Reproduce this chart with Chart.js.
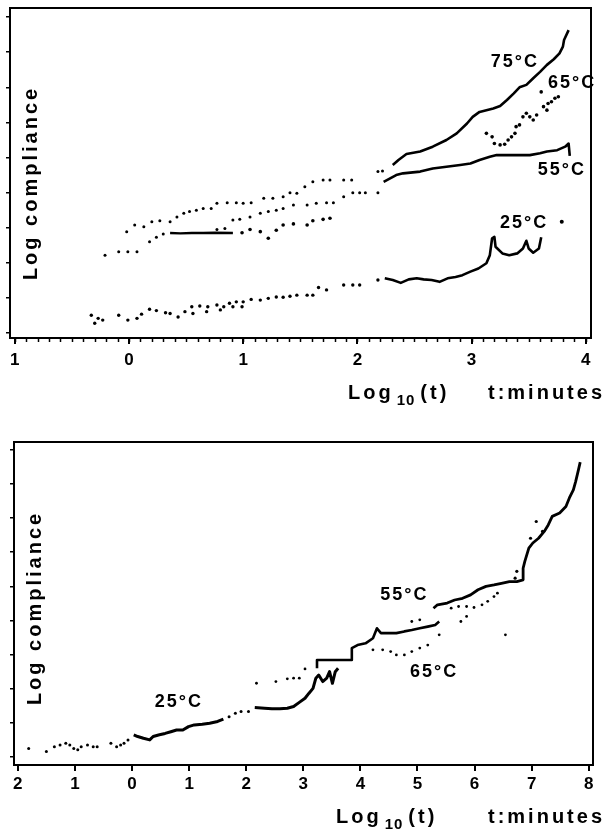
<!DOCTYPE html>
<html><head><meta charset="utf-8">
<script src="https://cdn.jsdelivr.net/npm/chart.js@4.4.0/dist/chart.umd.min.js"></script>
<style>
html,body{margin:0;padding:0;background:#fff;}
canvas{display:block;}
</style></head><body>
<canvas id="c1" width="610" height="415"></canvas>
<canvas id="c2" width="610" height="415"></canvas>
<script>
// ---------- TOP CHART DATA (x = log10 t, y = log compliance, arbitrary units) ----------
const topTickValues = [-1, 0, 1, 2, 3, 4];
const topTickLabels = ['1', '0', '1', '2', '3', '4'];

const top25DotsX = [-0.33,-0.30,-0.27,-0.23,-0.09,-0.01,0.07,0.11,0.18,0.24,0.32,0.36,0.43,0.49,0.55,0.56,0.62,0.68,0.69,0.77,0.80,0.83,0.88,0.91,0.94,0.99,1.00,1.07,1.15,1.22,1.29,1.35,1.41,1.47,1.56,1.61,1.66,1.73,1.88,1.96,2.02,2.18];
const top25DotsY = [0.51,0.28,0.42,0.37,0.51,0.37,0.42,0.54,0.68,0.64,0.58,0.56,0.46,0.61,0.75,0.56,0.77,0.61,0.75,0.80,0.66,0.75,0.85,0.75,0.89,0.75,0.89,0.96,0.94,0.99,1.03,1.02,1.05,1.08,1.08,1.08,1.30,1.23,1.37,1.37,1.37,1.51];
const top25LineX = [2.24,2.31,2.38,2.45,2.52,2.58,2.65,2.72,2.79,2.86,2.92,2.99,3.06,3.13,3.16,3.18,3.20,3.21,3.27,3.33,3.40,3.45,3.48,3.50,3.54,3.59,3.61];
const top25LineY = [1.56,1.51,1.43,1.53,1.56,1.53,1.51,1.46,1.56,1.60,1.65,1.75,1.84,1.99,2.22,2.70,2.74,2.46,2.27,2.22,2.27,2.41,2.63,2.41,2.29,2.41,2.73];
const top25ExtraX = [3.79];
const top25ExtraY = [3.17];

const top75DotsX = [-0.02,0.05,0.13,0.20,0.27,0.36,0.42,0.48,0.53,0.59,0.65,0.72,0.77,0.86,0.94,1.00,1.07,1.18,1.26,1.35,1.41,1.47,1.54,1.61,1.70,1.76,1.88,1.95,2.18,2.22];
const top75DotsY = [2.89,3.08,3.03,3.17,3.20,3.17,3.31,3.41,3.46,3.50,3.55,3.55,3.70,3.71,3.71,3.70,3.71,3.84,3.84,3.88,4.00,3.98,4.17,4.31,4.36,4.36,4.36,4.36,4.60,4.62];
const top75LineX = [2.31,2.36,2.43,2.55,2.66,2.78,2.87,2.96,3.01,3.07,3.19,3.25,3.31,3.37,3.42,3.48,3.54,3.60,3.66,3.72,3.77,3.80,3.81,3.85];
const top75LineY = [4.79,4.93,5.10,5.17,5.31,5.50,5.69,5.97,6.16,6.30,6.40,6.47,6.64,6.83,7.00,7.07,7.26,7.44,7.64,7.80,7.97,8.16,8.35,8.63];

const top55DotsX = [-0.21,-0.09,-0.01,0.07,0.18,0.24,0.30,0.77,0.84,0.91,0.97,1.06,1.15,1.22,1.29,1.35,1.44,1.56,1.64,1.73,1.79,1.88,1.96,2.02,2.07,2.18];
const top55DotsY = [2.22,2.32,2.32,2.32,2.60,2.73,2.82,2.95,2.98,3.22,3.24,3.31,3.41,3.46,3.50,3.55,3.65,3.65,3.70,3.71,3.71,3.88,4.00,4.00,4.00,4.00];
const top55FlatX = [0.36,0.45,0.55,0.65,0.75,0.91];
const top55FlatY = [2.85,2.84,2.85,2.85,2.86,2.85];
const top55LineX = [2.23,2.34,2.40,2.55,2.66,2.78,2.90,2.99,3.07,3.16,3.22,3.37,3.51,3.60,3.66,3.75,3.82,3.85,3.86];
const top55LineY = [4.31,4.50,4.55,4.60,4.69,4.74,4.79,4.83,4.93,5.02,5.07,5.07,5.07,5.12,5.17,5.21,5.31,5.40,5.05];

const top65DotsX = [0.99,1.06,1.15,1.22,1.29,1.35,1.44,1.56,1.61,1.70,1.76,3.13,3.18,3.20,3.25,3.29,3.32,3.35,3.38,3.39,3.42,3.45,3.48,3.51,3.54,3.57,3.61,3.63,3.66,3.67,3.70,3.73,3.76];
const top65DotsY = [2.86,2.95,2.89,2.70,2.93,3.08,3.11,3.08,3.20,3.24,3.27,5.69,5.59,5.40,5.36,5.38,5.50,5.59,5.69,5.88,5.93,6.16,6.26,6.16,6.07,6.21,6.87,6.45,6.35,6.54,6.59,6.69,6.73];

const topLabelTexts = ['75°C', '65°C', '55°C', '25°C'];

// ---------- BOTTOM CHART DATA ----------
const botTickValues = [-2,-1,0,1,2,3,4,5,6,7,8];
const botTickLabels = ['2','1','0','1','2','3','4','5','6','7','8'];

const bot25DotsX = [-1.81,-1.50,-1.36,-1.26,-1.16,-1.09,-1.02,-0.95,-0.89,-0.78,-0.68,-0.61,-0.37,-0.27,-0.20,-0.14,-0.07,1.70,1.81,1.91,2.04];
const bot25DotsY = [0.25,0.16,0.30,0.35,0.40,0.35,0.25,0.21,0.30,0.35,0.30,0.30,0.40,0.30,0.35,0.40,0.50,1.18,1.28,1.33,1.33];
const bot25LineAX = [0.03,0.10,0.20,0.31,0.37,0.48,0.58,0.68,0.78,0.89,0.99,1.09,1.23,1.36,1.50,1.60];
const bot25LineAY = [0.65,0.60,0.55,0.50,0.60,0.65,0.69,0.74,0.79,0.79,0.89,0.94,0.96,0.99,1.04,1.11];
const bot25LineBX = [2.15,2.32,2.45,2.59,2.72,2.83,2.93,3.03,3.10,3.17,3.22,3.27,3.34,3.41,3.46,3.51,3.56,3.61];
const bot25LineBY = [1.45,1.43,1.41,1.41,1.43,1.48,1.60,1.72,1.87,2.01,2.31,2.40,2.21,2.31,2.50,2.16,2.50,2.60];
const botRowDotsX = [2.18,2.52,2.72,2.83,2.93,3.03];
const botRowDotsY = [2.16,2.21,2.29,2.31,2.31,2.58];
const bot55LineX = [3.24,3.24,3.85,3.85,3.95,4.09,4.22,4.29,4.36,4.50,4.63,4.77,4.90,5.04,5.18,5.31,5.38];
const bot55LineY = [2.60,2.84,2.84,3.19,3.28,3.33,3.48,3.77,3.63,3.63,3.63,3.68,3.72,3.77,3.82,3.87,3.97];
const bot55UpperX = [5.28,5.35,5.52,5.65,5.79,5.93,6.06,6.20,6.34,6.47,6.61,6.74,6.85,6.85,6.88,6.95,7.02,7.12,7.22,7.29,7.36,7.49,7.60,7.66,7.73,7.77,7.82,7.85];
const bot55UpperY = [4.36,4.46,4.51,4.60,4.65,4.75,4.90,5.00,5.04,5.09,5.14,5.14,5.19,5.53,5.73,6.12,6.27,6.41,6.61,6.80,7.05,7.15,7.34,7.59,7.83,8.07,8.42,8.64];
const botScatterX = [6.71,6.74,6.98,7.08,7.19];
const botScatterY = [5.24,5.44,6.41,6.90,6.61];
const bot65DotsX = [4.22,4.39,4.53,4.63,4.77,4.90,5.04,5.18,5.38,4.90,5.04,5.59,5.72,5.86,5.99,6.13,6.23,6.34,6.40,5.76,5.86,6.54];
const bot65DotsY = [3.14,3.14,3.09,2.99,2.99,3.09,3.19,3.28,3.58,3.97,4.02,4.36,4.41,4.41,4.38,4.46,4.56,4.70,4.80,3.97,4.12,3.58];

const botLabelTexts = ['25°C', '55°C', '65°C'];

// ---------- helpers ----------
function pts(xs, ys) { return xs.map((x, i) => ({ x: x, y: ys[i] })); }
function dots(xs, ys, r) {
  return { data: pts(xs, ys), showLine: false, pointRadius: r || 1.5, pointBackgroundColor: '#000', pointBorderWidth: 0 };
}
function trace(xs, ys, w) {
  return { data: pts(xs, ys), showLine: true, borderColor: '#000', borderWidth: w || 2.6, pointRadius: 0, tension: 0, borderJoinStyle: 'round' };
}

const AXIS_FONT = '"Liberation Sans", Arial, sans-serif';

const decorPlugin = {
  id: 'decor',
  afterDraw(chart, args, o) {
    const { ctx, chartArea: a, scales } = chart;
    const xs = scales.x, ys = scales.y;
    ctx.save();
    // frame
    ctx.strokeStyle = '#000';
    ctx.lineWidth = 2;
    ctx.strokeRect(a.left, a.top, a.right - a.left, a.bottom - a.top);
    // minor x ticks
    if (o.minorStep) {
      ctx.lineWidth = 1.5;
      for (let v = o.minorFrom; v <= o.minorTo + 1e-9; v += o.minorStep) {
        const px = Math.round(xs.getPixelForValue(v)) + 0.5;
        ctx.beginPath();
        ctx.moveTo(px, a.bottom + 1);
        ctx.lineTo(px, a.bottom + 4);
        ctx.stroke();
      }
    }
    // temperature labels
    ctx.fillStyle = '#000';
    ctx.textAlign = 'center';
    ctx.textBaseline = 'middle';
    ctx.font = 'bold 18px ' + AXIS_FONT;
    try { ctx.letterSpacing = '2px'; } catch (e) {}
    o.labels.forEach(l => {
      ctx.fillText(l.text, xs.getPixelForValue(l.x), ys.getPixelForValue(l.y));
    });
    // y title
    try { ctx.letterSpacing = '3px'; } catch (e) {}
    ctx.font = 'bold 20px ' + AXIS_FONT;
    ctx.save();
    ctx.translate(o.yTitle.x, o.yTitle.y);
    ctx.rotate(-Math.PI / 2);
    ctx.fillText('Log compliance', 0, 0);
    ctx.restore();
    // x title
    ctx.textAlign = 'left';
    ctx.textBaseline = 'alphabetic';
    const t = o.xTitle;
    ctx.font = 'bold 20px ' + AXIS_FONT;
    ctx.fillText('Log', t.x, t.y);
    let w = ctx.measureText('Log').width;
    ctx.font = 'bold 15px ' + AXIS_FONT;
    try { ctx.letterSpacing = '1px'; } catch (e) {}
    ctx.fillText('10', t.x + w + 3, t.y + 6);
    const w2 = ctx.measureText('10').width;
    try { ctx.letterSpacing = '3px'; } catch (e) {}
    ctx.font = 'bold 20px ' + AXIS_FONT;
    ctx.fillText('(t)', t.x + w + w2 + 8, t.y);
    ctx.fillText('t:minutes', t.x2, t.y);
    ctx.restore();
  }
};

function makeChart(id, cfg) {
  return new Chart(document.getElementById(id), {
    type: 'scatter',
    data: { datasets: cfg.datasets },
    options: {
      responsive: false,
      animation: false,
      events: [],
      layout: { padding: cfg.padding },
      plugins: { legend: { display: false }, tooltip: { enabled: false }, decor: cfg.decor },
      scales: {
        x: {
          type: 'linear', min: cfg.xMin, max: cfg.xMax,
          afterBuildTicks: s => { s.ticks = cfg.tickValues.map(v => ({ value: v })); },
          afterFit: s => { s.height = cfg.xHeight; },
          ticks: {
            callback: (v, i) => cfg.tickLabels[i],
            color: '#000', maxRotation: 0, autoSkip: false,
            padding: cfg.tickPad,
            font: { family: AXIS_FONT, size: 17, weight: 'bold' }
          },
          grid: { drawOnChartArea: false, drawTicks: true, tickLength: 6, color: '#000', lineWidth: 2 },
          border: { display: true, color: '#000', width: 2 }
        },
        y: {
          type: 'linear', min: cfg.yMin, max: cfg.yMax,
          afterBuildTicks: s => { s.ticks = [0,1,2,3,4,5,6,7,8,9].map(v => ({ value: v })); },
          afterFit: s => { s.width = cfg.yWidth; },
          ticks: { display: false },
          grid: { drawOnChartArea: false, drawTicks: true, tickLength: 4, color: '#000', lineWidth: 1.5 },
          border: { display: true, color: '#000', width: 2 }
        }
      }
    },
    plugins: [decorPlugin]
  });
}

makeChart('c1', {
  xMin: -1.042, xMax: 4.046, yMin: -0.14, yMax: 9.26,
  tickValues: topTickValues, tickLabels: topTickLabels,
  padding: { left: 0, top: 8, right: 19, bottom: 0 },
  xHeight: 77, yWidth: 10, tickPad: 6,
  datasets: [
    dots(top25DotsX, top25DotsY, 1.7), trace(top25LineX, top25LineY), dots(top25ExtraX, top25ExtraY, 2),
    dots(top75DotsX, top75DotsY, 1.5), trace(top75LineX, top75LineY),
    dots(top55DotsX, top55DotsY, 1.5), trace(top55FlatX, top55FlatY, 2.4), trace(top55LineX, top55LineY),
    dots(top65DotsX, top65DotsY, 1.8)
  ],
  decor: {
    minorStep: 0.1, minorFrom: -1, minorTo: 4,
    labels: [
      { text: topLabelTexts[0], x: 3.38, y: 7.72 },
      { text: topLabelTexts[1], x: 3.88, y: 7.12 },
      { text: topLabelTexts[2], x: 3.79, y: 4.64 },
      { text: topLabelTexts[3], x: 3.46, y: 3.13 }
    ],
    yTitle: { x: 31, y: 183 },
    xTitle: { x: 348, x2: 488, y: 399 }
  }
});

makeChart('c2', {
  xMin: -2.067, xMax: 8.074, yMin: -0.235, yMax: 9.23,
  tickValues: botTickValues, tickLabels: botTickLabels,
  padding: { left: 0, top: 27, right: 17, bottom: 0 },
  xHeight: 65, yWidth: 14, tickPad: 3,
  datasets: [
    dots(bot25DotsX, bot25DotsY, 1.5), trace(bot25LineAX, bot25LineAY, 3), trace(bot25LineBX, bot25LineBY, 3),
    dots(botRowDotsX, botRowDotsY, 1.4),
    trace(bot55LineX, bot55LineY), trace(bot55UpperX, bot55UpperY, 2.8), dots(botScatterX, botScatterY, 1.6),
    dots(bot65DotsX, bot65DotsY, 1.4)
  ],
  decor: {
    labels: [
      { text: botLabelTexts[0], x: 0.82, y: 1.62 },
      { text: botLabelTexts[1], x: 4.77, y: 4.75 },
      { text: botLabelTexts[2], x: 5.29, y: 2.50 }
    ],
    yTitle: { x: 35, y: 193 },
    xTitle: { x: 336, x2: 488, y: 408 }
  }
});
</script></body></html>
